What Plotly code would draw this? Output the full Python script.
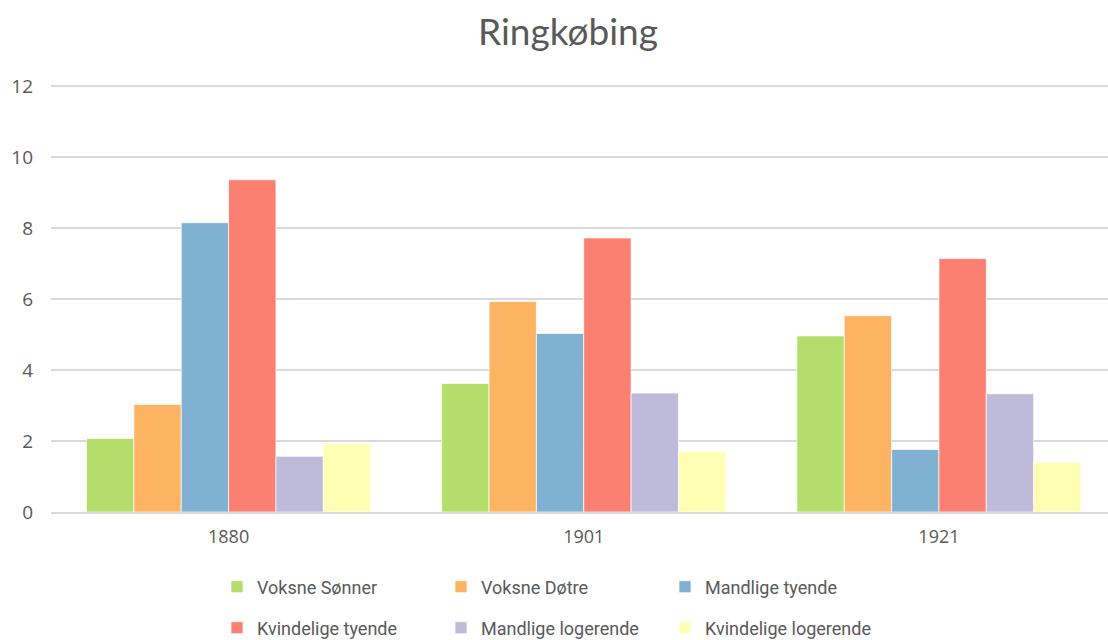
import plotly.graph_objects as go

# Census years on the category axis
years = ["1880", "1901", "1921"]

# Share per household group (per cent), one list per series
voksne_sonner = [2.07, 3.62, 4.96]
voksne_dotre = [3.03, 5.93, 5.53]
mandlige_tyende = [8.15, 5.03, 1.76]
kvindelige_tyende = [9.36, 7.72, 7.14]
mandlige_logerende = [1.57, 3.35, 3.33]
kvindelige_logerende = [1.92, 1.71, 1.40]

series_names = [
    "Voksne Sønner", "Voksne Døtre", "Mandlige tyende",
    "Kvindelige tyende", "Mandlige logerende", "Kvindelige logerende",
]
series_values = [
    voksne_sonner, voksne_dotre, mandlige_tyende,
    kvindelige_tyende, mandlige_logerende, kvindelige_logerende,
]
colors = ["#B3DE69", "#FDB462", "#80B1D3", "#FB8072", "#BEBADA", "#FFFFB3"]

y_ticks = [0, 2, 4, 6, 8, 10, 12]

TEXT = "#595959"
GRID = "#D9D9D9"

fig = go.Figure()
for i, (name, vals, col) in enumerate(zip(series_names, series_values, colors)):
    fig.add_trace(go.Bar(
        x=years, y=vals, name=name,
        marker=dict(color=col, line=dict(color="rgba(255,255,255,0.7)", width=1)),
        legend="legend" if i < 3 else "legend2",
    ))

legend_font = dict(family="Roboto, Noto Sans", size=18, color=TEXT)
legend_common = dict(orientation="h", xref="container", yref="container",
                     x=217 / 1108, xanchor="left", yanchor="middle",
                     entrywidth=179, entrywidthmode="pixels", itemwidth=30,
                     font=legend_font, tracegroupgap=0, bgcolor="rgba(0,0,0,0)")

fig.update_layout(
    width=1108, height=640,
    margin=dict(l=51, r=0, t=85, b=128),
    paper_bgcolor="white", plot_bgcolor="white",
    barmode="group", bargap=0.2, bargroupgap=0,
    title=dict(text="Ringkøbing", x=568 / 1108, xanchor="center", xref="container",
               y=1 - 32 / 640, yanchor="middle", yref="container",
               font=dict(family="Lato, Open Sans", size=37, color=TEXT)),
    xaxis=dict(type="category", range=[-0.5, 2.476], showgrid=False,
               showline=True, linecolor=GRID, linewidth=1.5,
               ticks="", ticklabelstandoff=8,
               tickfont=dict(family="Open Sans, Noto Sans", size=18, color=TEXT)),
    yaxis=dict(range=[0, 12.03], tickvals=y_ticks, showgrid=True, gridcolor=GRID,
               gridwidth=1.5, zeroline=False, showline=False, ticks="",
               ticklabelstandoff=17,
               tickfont=dict(family="Open Sans, Noto Sans", size=19, color=TEXT)),
    legend=dict(legend_common, y=1 - 587 / 640),
    legend2=dict(legend_common, y=1 - 628 / 640),
)

fig.write_html("out.html")
